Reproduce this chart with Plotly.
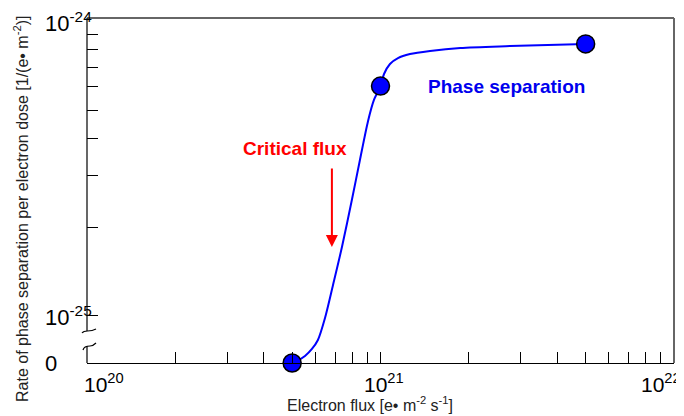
import math
import plotly.graph_objects as go

# ---------------- data ----------------
point_flux = [5.0e20, 1.0e21, 5.0e21]          # e / (m^2 s)
point_rate = [0.0, 6.03e-25, 8.39e-25]          # 1/(e m^-2)

curve_flux = [5.0e20, 5.19e20, 5.53e20, 5.84e20, 6.12e20, 6.47e20, 6.89e20,
              7.39e20, 8.0e20, 8.51e20, 9.07e20, 9.50e20, 1.0e21, 1.028e21,
              1.077e21, 1.147e21, 1.26e21, 1.475e21, 1.87e21, 2.76e21, 5.0e21]
curve_rate = [0.0, 0.042e-25, 0.147e-25, 0.295e-25, 0.484e-25, 0.947e-25, 1.27e-25,
              1.71e-25, 2.49e-25, 3.38e-25, 4.59e-25, 5.41e-25, 6.03e-25, 6.63e-25,
              7.17e-25, 7.51e-25, 7.75e-25, 7.94e-25, 8.13e-25, 8.25e-25, 8.39e-25]

critical_flux = 6.83e20
critical_arrow_rate = 1.71e-25

x_tick_values = [2e20, 3e20, 4e20, 5e20, 6e20, 7e20, 8e20, 9e20, 1e21,
                 2e21, 3e21, 4e21, 5e21, 6e21, 7e21, 8e21, 9e21]
x_tick_labels = ["10<sup>20</sup>", "10<sup>21</sup>", "10<sup>22</sup>"]
y_minor_values = [2e-25, 3e-25, 4e-25, 5e-25, 6e-25, 7e-25, 8e-25, 9e-25, 1e-25]
y_tick_labels = ["10<sup>-24</sup>", "10<sup>-25</sup>", "0"]

# ---------------- broken axis: linear 0..1e-25 below, log above ----------------
ZERO_POS = -25 - 47.5 / 294.0
TOP_POS = -24 + 3.5 / 294.0
LOW_EDGE = 1e-25


def to_axis(r):
    if r >= LOW_EDGE:
        return math.log10(r)
    return ZERO_POS + (r / LOW_EDGE) * (-25 - ZERO_POS)


# page body has an 8px margin; the figure is sized to fit the window
OFF = 8
W, H = 684 - OFF, 416 - OFF
# plot-area geometry in window pixels
L, R, T, B = 87, 674, 18, 363


def px(x):
    return (x - L) / (R - L)


def py(y):
    return (B - y) / (B - T)


fig = go.Figure()
fig.add_trace(go.Scatter(
    x=curve_flux, y=[to_axis(r) for r in curve_rate], mode="lines",
    line=dict(color="#0000ff", width=2, shape="spline", smoothing=0.8),
    hoverinfo="skip", cliponaxis=False))
fig.add_trace(go.Scatter(
    x=point_flux, y=[to_axis(r) for r in point_rate], mode="markers",
    marker=dict(size=18, color="#0000ff", line=dict(color="black", width=1.5)),
    cliponaxis=False))

font_family = "Arial, Liberation Sans, sans-serif"

fig.update_layout(
    width=W, height=H,
    margin=dict(l=L - OFF, r=(W + OFF) - R, t=T - OFF, b=(H + OFF) - B, pad=0),
    plot_bgcolor="white", paper_bgcolor="white",
    showlegend=False,
    font=dict(family=font_family, color="black"),
    xaxis=dict(type="log", range=[20, 22], showgrid=False, zeroline=False,
               showline=True, linecolor="black", linewidth=1.2,
               ticks="inside", ticklen=11, tickwidth=1, tickcolor="black",
               tickvals=x_tick_values, showticklabels=False),
    yaxis=dict(type="linear", range=[ZERO_POS, TOP_POS], showgrid=False,
               zeroline=False, showline=False,
               ticks="inside", ticklen=11, tickwidth=1, tickcolor="black",
               tickvals=[math.log10(v) for v in y_minor_values],
               showticklabels=False),
)

line_k = dict(color="black", width=1.2)
shapes = [
    # top & right frame
    dict(type="line", xref="paper", yref="paper", x0=0, x1=1, y0=1, y1=1,
         line=dict(color="#333333", width=1.5)),
    dict(type="line", xref="paper", yref="paper", x0=1, x1=1, y0=0, y1=1,
         line=dict(color="#666666", width=2)),
    # left axis with a break
    dict(type="line", xref="paper", yref="paper", x0=0, x1=0, y0=1, y1=py(331),
         line=line_k),
    dict(type="line", xref="paper", yref="paper", x0=0, x1=0, y0=py(346), y1=0,
         line=line_k),
    dict(type="path", xref="paper", yref="paper", line=line_k,
         path=(f"M {px(82)} {py(333)} C {px(85)} {py(329)}, {px(89)} {py(333)}, "
               f"{px(96)} {py(329)}")),
    dict(type="path", xref="paper", yref="paper", line=line_k,
         path=(f"M {px(83)} {py(350)} C {px(84)} {py(346)}, {px(88)} {py(346)}, "
               f"{px(90)} {py(346)} S {px(94)} {py(345)}, {px(96)} {py(343)}")),
]
fig.update_layout(shapes=shapes)

ann = []
# x tick labels
for val, lab, anchor, shift in zip([20, 21, 22], x_tick_labels,
                                   ["left", "center", "right"], [-5, 3, 9]):
    ann.append(dict(x=val, xref="x", y=py(368), yref="paper", text=lab,
                    showarrow=False, xanchor=anchor, yanchor="top", xshift=shift,
                    font=dict(size=21, color="black", family=font_family)))
# y tick labels
for val, lab in zip([-24, -25, ZERO_POS], y_tick_labels):
    ann.append(dict(x=px(43), xref="paper", y=val, yref="y", text=lab,
                    showarrow=False, xanchor="left", yanchor="middle",
                    font=dict(size=22, color="black", family=font_family)))
# axis titles
ann.append(dict(x=px(370), xref="paper", y=py(404), yref="paper",
                text="Electron flux [e\u2022 m<sup>-2</sup> s<sup>-1</sup>]",
                showarrow=False, xanchor="center", yanchor="middle",
                font=dict(size=16, color="#222222", family=font_family)))
ann.append(dict(x=px(21), xref="paper", y=py(209), yref="paper",
                text="Rate of phase separation per electron dose [1/(e\u2022 m<sup>-2</sup>)]",
                textangle=-90, showarrow=False, xanchor="center", yanchor="middle",
                font=dict(size=16, color="#222222", family=font_family)))
# in-plot annotations
ann.append(dict(x=math.log10(critical_flux), xref="x",
                y=to_axis(critical_arrow_rate), yref="y", text="",
                showarrow=True, ax=0, ay=-80, arrowhead=2, arrowsize=1.2,
                arrowwidth=2, arrowcolor="#ff0000", standoff=0))
ann.append(dict(x=px(295), xref="paper", y=py(149), yref="paper",
                text="<b>Critical flux</b>", showarrow=False,
                xanchor="center", yanchor="middle",
                font=dict(size=19, color="#ff0000", family=font_family)))
ann.append(dict(x=px(506), xref="paper", y=py(86), yref="paper",
                text="<b>Phase separation</b>", showarrow=False,
                xanchor="center", yanchor="middle",
                font=dict(size=19, color="#0000ee", family=font_family)))
fig.update_layout(annotations=ann)

fig.write_html("out.html")
